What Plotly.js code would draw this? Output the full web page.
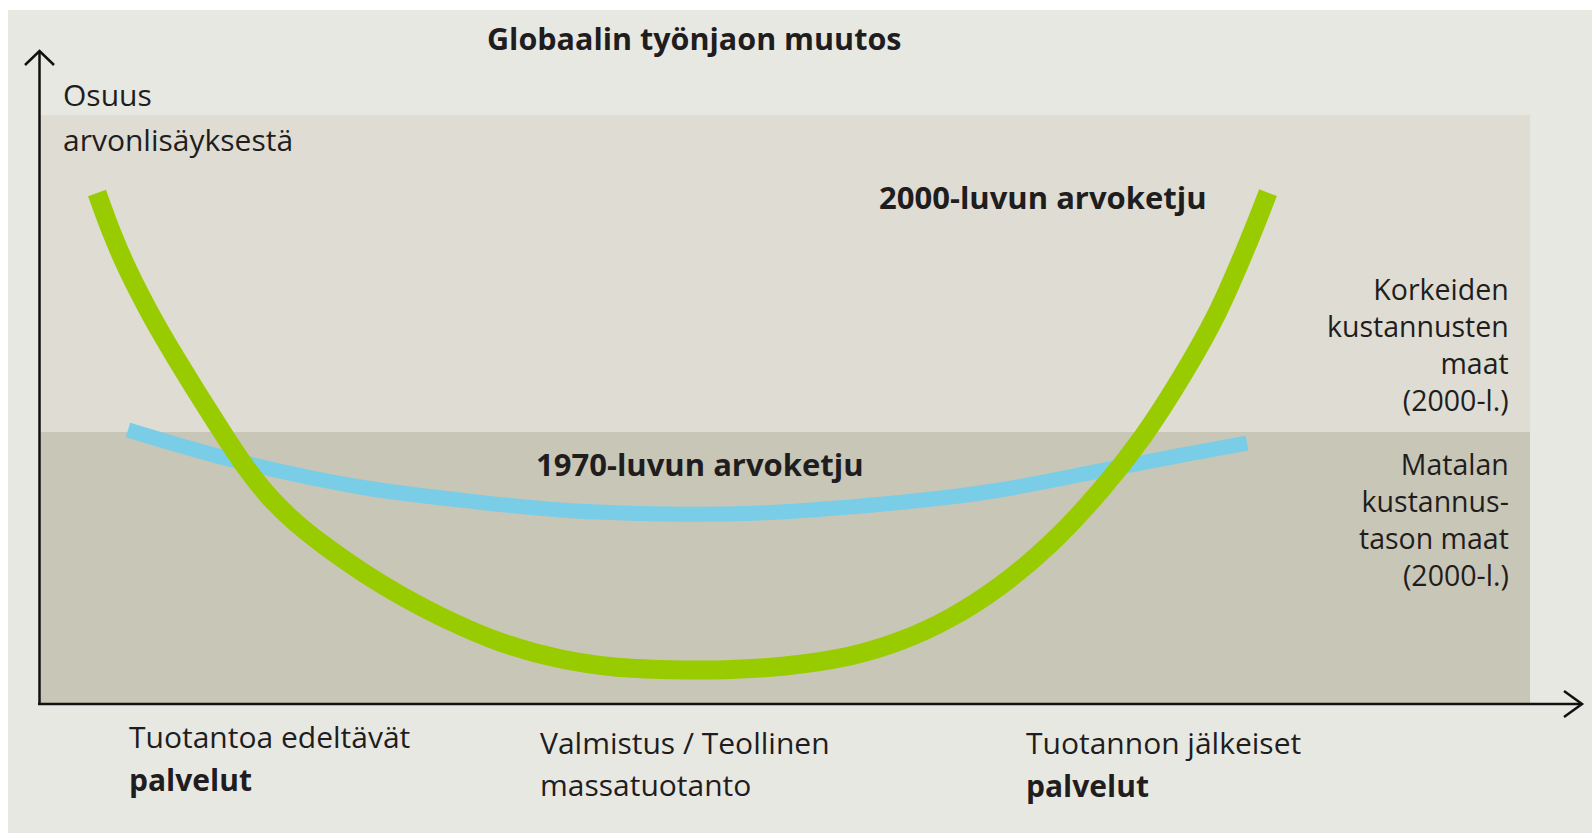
<!DOCTYPE html>
<html>
<head>
<meta charset="utf-8">
<script src="https://cdn.plot.ly/plotly-3.0.1.min.js"></script>
<style>
  html, body { margin: 0; padding: 0; background: #ffffff; }
  #chart { width: 1592px; height: 833px; }
</style>
</head>
<body>
<div id="chart"></div>
<script>
// ---- Data (value-chain position 0-100, share of value added 0-100) ----
const chain2000X = [3.89, 4.90, 5.90, 7.58, 9.26, 11.94, 13.95, 15.49, 17.17, 19.18, 21.53, 24.21, 27.57, 30.92, 34.94, 38.63, 42.32, 46.01, 50.03, 54.39, 57.75, 61.10, 64.45, 67.81, 71.16, 74.04, 76.73, 79.01, 80.89, 82.43];
const chain2000Y = [86.76, 79.88, 74.02, 65.70, 58.40, 47.54, 39.90, 35.06, 30.90, 26.83, 22.67, 18.51, 14.09, 10.53, 7.67, 6.28, 5.82, 5.82, 6.45, 8.15, 10.70, 14.60, 20.03, 27.16, 36.16, 45.43, 55.96, 66.35, 77.05, 86.81];
const chain1970X = [5.97, 13.01, 21.53, 28.24, 34.94, 42.12, 48.36, 54.39, 61.10, 64.45, 71.16, 76.73, 81.02];
const chain1970Y = [46.52, 41.43, 36.84, 34.63, 32.94, 32.26, 32.43, 33.45, 35.14, 36.33, 39.56, 42.28, 44.31];
const costBoundary = 46.2;   // border between low-cost and high-cost countries
const seriesNames = ["1970-luvun arvoketju", "2000-luvun arvoketju"];
const stageLabels = [
  ["Tuotantoa edeltävät", "palvelut"],
  ["Valmistus / Teollinen", "massatuotanto"],
  ["Tuotannon jälkeiset", "palvelut"]
];
const highCostLabel = ["Korkeiden", "kustannusten", "maat", "(2000-l.)"];
const lowCostLabel = ["Matalan", "kustannus-", "tason maat", "(2000-l.)"];
const yAxisLabel = ["Osuus", "arvonlisäyksestä"];
const chartTitle = "Globaalin työnjaon muutos";

// ---- Layout helpers (pixel -> paper) ----
const W = 1592, H = 833;
const L = 39, R = 1530, T = 115, B = 704;
const xp = px => (px - L) / (R - L);
const yp = py => (B - py) / (B - T);

const FONT = "Open Sans, Noto Sans, sans-serif";
const TXT = "#1f1d1d";

const traces = [
  {
    x: chain1970X, y: chain1970Y, name: seriesNames[0],
    mode: "lines", type: "scatter",
    line: { color: "#7acde6", width: 15, shape: "spline", smoothing: 1 },
    hoverinfo: "skip"
  },
  {
    x: chain2000X, y: chain2000Y, name: seriesNames[1],
    mode: "lines", type: "scatter",
    line: { color: "#99cc00", width: 19, shape: "spline", smoothing: 1 },
    hoverinfo: "skip"
  }
];

function ann(text, px, py, opts) {
  return Object.assign({
    text: text, xref: "paper", yref: "paper",
    x: xp(px), y: yp(py), xanchor: "left", yanchor: "middle",
    showarrow: false,
    font: { family: FONT, size: 30, color: TXT }
  }, opts || {});
}

const annotations = [];
// title
annotations.push(ann("<b>" + chartTitle + "</b>", 694, 38, { xanchor: "center", font: { family: FONT, size: 30.5, color: TXT } }));
// y label
annotations.push(ann(yAxisLabel[0], 61, 94));
annotations.push(ann(yAxisLabel[1], 61, 139));
// series labels
annotations.push(ann("<b>" + seriesNames[1] + "</b>", 877, 197, { font: { family: FONT, size: 31, color: TXT } }));
annotations.push(ann("<b>" + seriesNames[0] + "</b>", 534, 464, { font: { family: FONT, size: 31, color: TXT } }));
// right labels (multi-line blocks)
annotations.push(ann(highCostLabel.join("<br>"), 1511, 344, { xanchor: "right", align: "right", font: { family: FONT, size: 28.5, color: TXT } }));
annotations.push(ann(lowCostLabel.join("<br>"), 1511, 519, { xanchor: "right", align: "right", font: { family: FONT, size: 28.5, color: TXT } }));
// bottom stage labels
const stageX = [127, 538, 1024];
const stageY = [[736, 779], [742, 784], [742, 785]];
stageLabels.forEach((pair, i) => {
  annotations.push(ann(pair[0], stageX[i], stageY[i][0]));
  const second = (i === 1) ? pair[1] : "<b>" + pair[1] + "</b>";
  annotations.push(ann(second, stageX[i], stageY[i][1]));
});

const AX = "#111111";
function pathPx(points) {
  return points.map((p, i) => (i ? "L" : "M") + xp(p[0]).toFixed(5) + "," + yp(p[1]).toFixed(5)).join(" ");
}

const shapes = [
  // outer background panel
  { type: "rect", xref: "paper", yref: "paper", x0: xp(8), x1: xp(1592), y0: yp(10), y1: yp(833),
    fillcolor: "#e8e8e3", line: { width: 0 }, layer: "below" },
  // high-cost band
  { type: "rect", xref: "x", yref: "y", x0: 0, x1: 100, y0: costBoundary, y1: 100,
    fillcolor: "#dedcd3", line: { width: 0 }, layer: "below" },
  // low-cost band
  { type: "rect", xref: "x", yref: "y", x0: 0, x1: 100, y0: 0, y1: costBoundary,
    fillcolor: "#c8c6b7", line: { width: 0 }, layer: "below" },
  // y axis
  { type: "line", xref: "paper", yref: "paper", x0: xp(39.5), x1: xp(39.5), y0: yp(51), y1: yp(705),
    line: { color: AX, width: 2.5 } },
  // x axis
  { type: "line", xref: "paper", yref: "paper", x0: xp(38), x1: xp(1582), y0: yp(704), y1: yp(704),
    line: { color: AX, width: 2.5 } },
  // arrow heads
  { type: "path", xref: "paper", yref: "paper", path: pathPx([[25, 65], [39.5, 51], [54, 65]]),
    line: { color: AX, width: 2.5 } },
  { type: "path", xref: "paper", yref: "paper", path: pathPx([[1564, 691], [1582, 704], [1564, 717]]),
    line: { color: AX, width: 2.5 } }
];

const layout = {
  width: W, height: H,
  margin: { l: L, r: W - R, t: T, b: H - B, pad: 0 },
  paper_bgcolor: "#ffffff",
  plot_bgcolor: "rgba(0,0,0,0)",
  showlegend: false,
  xaxis: { range: [0, 100], visible: false, fixedrange: true },
  yaxis: { range: [0, 100], visible: false, fixedrange: true },
  shapes: shapes,
  annotations: annotations
};

Plotly.newPlot("chart", traces, layout, { staticPlot: true, displayModeBar: false });
</script>
</body>
</html>
